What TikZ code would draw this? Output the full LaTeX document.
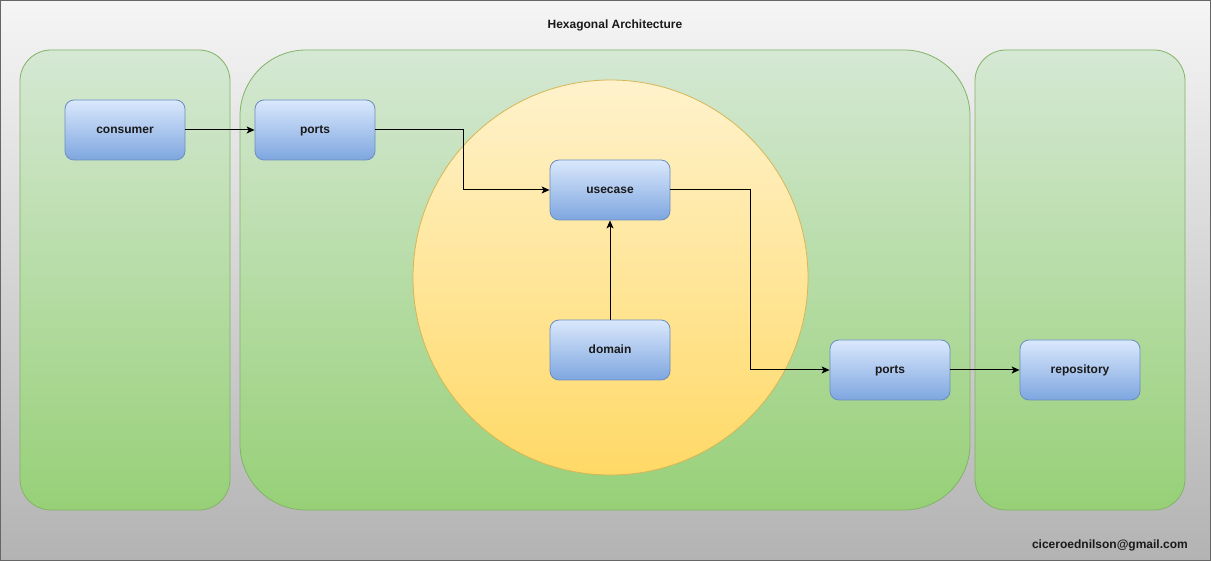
\documentclass[tikz,border=0pt]{standalone}
\usepackage{fontspec}
\setmainfont{Liberation Sans}
\usetikzlibrary{arrows.meta}
\definecolor{bgtop}{HTML}{F5F5F5}
\definecolor{bgbot}{HTML}{B3B3B3}
\definecolor{bgline}{HTML}{666666}
\definecolor{grtop}{HTML}{D5E8D4}
\definecolor{grbot}{HTML}{97D077}
\definecolor{grline}{HTML}{82B366}
\definecolor{bltop}{HTML}{DAE8FC}
\definecolor{blbot}{HTML}{7EA6E0}
\definecolor{blline}{HTML}{6C8EBF}
\definecolor{yetop}{HTML}{FFF2CC}
\definecolor{yebot}{HTML}{FFD966}
\definecolor{yeline}{HTML}{D6B656}
\tikzset{
  panel/.style={draw=grline, line width=0.8pt, top color=grtop, bottom color=grbot},
  box/.style={draw=blline, line width=0.8pt, top color=bltop, bottom color=blbot,
    rounded corners=9pt, minimum width=120pt, minimum height=60pt, inner sep=0pt,
    text height=8.6pt, text depth=2.5pt,
    font=\fontsize{12}{14}\selectfont\bfseries, text=black!90},
  conn/.style={draw=black, line width=1pt, -{Stealth[length=8pt,width=7pt,inset=2pt]}},
  lbl/.style={font=\fontsize{12}{14}\selectfont\bfseries, text=black!90, inner sep=0pt,
    text height=8.6pt, text depth=2.5pt}
}
\begin{document}
\begin{tikzpicture}[x=1pt,y=-1pt]
\useasboundingbox (0,0) rectangle (1211,561);
\draw[bgline, line width=1pt, top color=bgtop, bottom color=bgbot] (0.5,0.5) rectangle (1210.5,560.5);
\node[lbl] (title) at (615,25) {Hexagonal Architecture};
\path[panel, rounded corners=31pt] (20,50) rectangle (230,510);
\path[panel, rounded corners=66pt] (240,50) rectangle (970,510);
\path[panel, rounded corners=31pt] (975,50) rectangle (1185,510);
\path[draw=yeline, line width=0.8pt, top color=yetop, bottom color=yebot] (610.5,277.5) circle (197.5);
\node[box] (consumer) at (125,130) {consumer};
\node[box] (ports1) at (315,130) {ports};
\node[box] (usecase) at (610,190) {usecase};
\node[box] (domain) at (610,350) {domain};
\node[box] (ports2) at (890,370) {ports};
\node[box] (repo) at (1080,370) {repository};
\draw[conn] (consumer) -- (ports1);
\draw[conn] (ports1.east) -- (463,130) -- (463,190) -- (usecase.west);
\draw[conn] (usecase.east) -- (750,190) -- (750,370) -- (ports2.west);
\draw[conn] (domain) -- (usecase);
\draw[conn] (ports2) -- (repo);
\node[lbl, anchor=east] (mail) at (1188,545.5) {ciceroednilson@gmail.com};
\end{tikzpicture}
\end{document}
